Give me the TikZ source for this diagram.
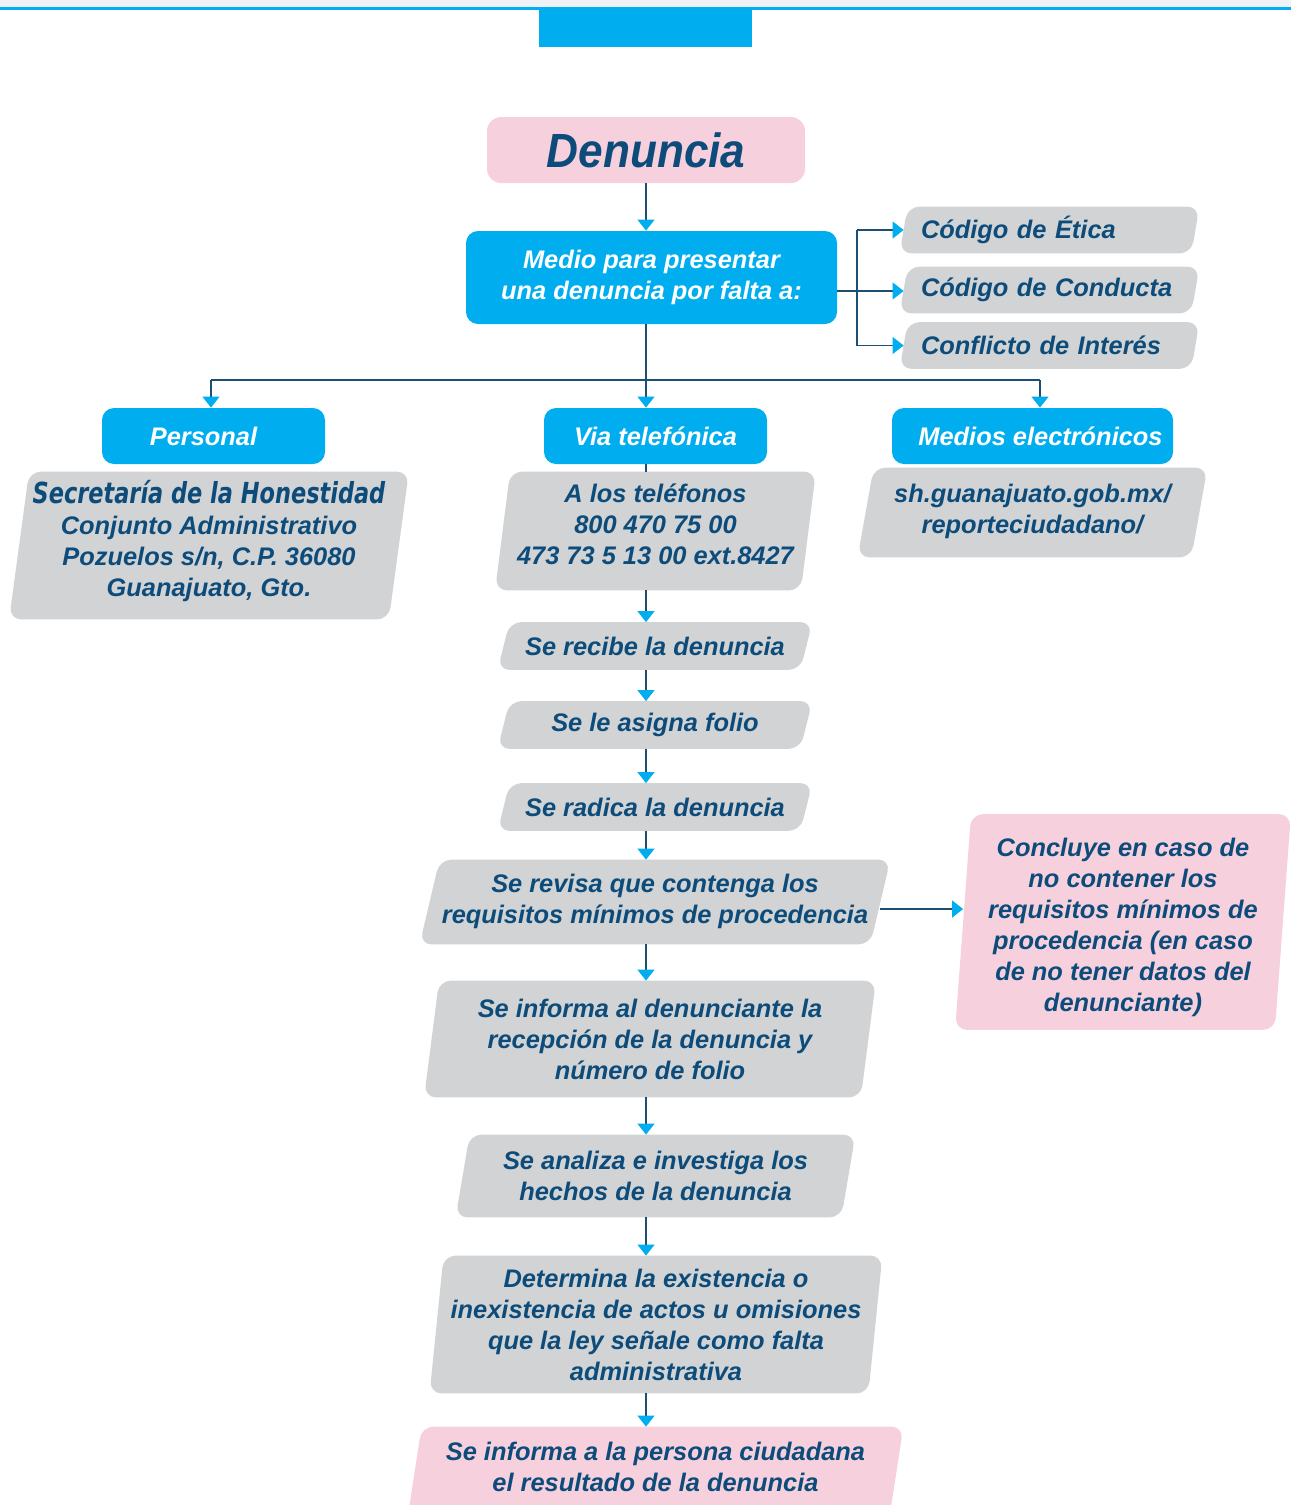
\documentclass[tikz,border=0pt]{standalone}
\usepackage{fontspec}
\setmainfont{Liberation Sans}
\newfontfamily\condfont{DejaVu Sans Condensed}
\usetikzlibrary{arrows.meta,backgrounds}
\definecolor{cyanb}{HTML}{00AEEF}
\definecolor{dblue}{HTML}{0D4C7A}
\definecolor{greyb}{HTML}{D1D3D4}
\definecolor{pinkb}{HTML}{F6D1DD}
\definecolor{lineb}{HTML}{1D4E74}
\definecolor{bandg}{HTML}{EEF2F5}
\tikzset{
 base/.style={inner sep=0pt, align=center, font=\fontsize{12.7}{15.5}\selectfont\bfseries\itshape, text=dblue},
 sz/.style 2 args={minimum width=#1*0.5pt, minimum height=#2*0.5pt},
 bluebox/.style={base, fill=cyanb, rounded corners=6pt, text=white},
 codebox/.style={base, align=left, inner xsep=8.5pt, text width=128.5pt, minimum height=23pt},
 arr/.style={draw=lineb, line width=0.6pt, -{Triangle[color=cyanb,width=8.5pt,length=5.5pt]}},
 conn/.style={draw=lineb, line width=0.6pt},
}
% name, half skew (px), colour, top extension (px), bottom extension (px)
\newcommand\slantfill[5]{\fill[#3, rounded corners=6pt]
 ([xshift=#2*0.5pt,yshift=#4*0.5pt]#1.north west) -- ([xshift=#2*0.5pt,yshift=#4*0.5pt]#1.north east) --
 ([xshift=-#2*0.5pt,yshift=-#5*0.5pt]#1.south east) -- ([xshift=-#2*0.5pt,yshift=-#5*0.5pt]#1.south west) -- cycle;}
\begin{document}
\begin{tikzpicture}[x=0.5pt,y=-0.5pt]
\useasboundingbox (0,0) rectangle (1291,1505);
% top band
\fill[bandg] (0,0) rectangle (1291,7);
\fill[cyanb] (0,7) rectangle (1291,10);
\fill[cyanb] (539,9) rectangle (752,47);

% nodes
\node[base, sz={318}{66}, fill=pinkb, rounded corners=7pt] (den) at (646,150)
 {\scalebox{0.92}[1]{\fontsize{24}{26}\selectfont Denuncia}};
\node[bluebox, sz={371}{93}] (medio) at (651.5,277.5) {Medio para presentar\\una denuncia por falta a:};
\node[codebox] (etica) at (1049.5,230) {Código de Ética};
\node[codebox] (conducta) at (1049.5,290) {Código de Conducta};
\node[codebox] (conflicto) at (1049.5,345.5) {Conflicto de Interés};

\node[bluebox, sz={223}{56}] (personal) at (213.5,436) {\hspace*{-10pt}Personal};
\node[bluebox, sz={223}{56}] (via) at (655.5,436) {Via telefónica};
\node[bluebox, sz={281}{56}] (medios) at (1032.5,436) {\hspace*{8pt}Medios electrónicos};

\node[base, sz={379}{138}] (addr) at (209,541)
 {\scalebox{0.86}[1]{\condfont\fontsize{14.5}{15.5}\selectfont\bfseries\itshape Secretaría de la Honestidad}\\Conjunto Administrativo\\Pozuelos s/n, C.P. 36080\\Guanajuato, Gto.};
\node[base, sz={305}{105}] (tel) at (655.5,524.5) {A los teléfonos\\800 470 75 00\\473 73 5 13 00 ext.8427};
\node[base, sz={333}{86}] (web) at (1032.5,511) {sh.guanajuato.gob.mx/\\reporteciudadano/};

\node[base, sz={302}{47}] (recibe) at (655,646) {Se recibe la denuncia};
\node[base, sz={302}{47}] (asigna) at (655,725) {Se le asigna folio};
\node[base, sz={302}{47}] (radica) at (655,807) {Se radica la denuncia};
\node[base, sz={450}{82}] (revisa) at (655,901) {Se revisa que contenga los\\requisitos mínimos de procedencia};
\node[base, sz={319}{205}] (concluye) at (1123,927)
 {Concluye en caso de\\no contener los\\requisitos mínimos de\\procedencia (en caso\\de no tener datos del\\denunciante)};
\node[base, sz={436}{116}] (informa) at (650,1039) {Se informa al denunciante la\\recepción de la denuncia y\\número de folio};
\node[base, sz={385}{82}] (analiza) at (655.5,1176) {Se analiza e investiga los\\hechos de la denuncia};
\node[base, sz={438}{137}] (determina) at (656,1324.5)
 {Determina la existencia o\\inexistencia de actos u omisiones\\que la ley señale como falta\\administrativa};
\node[base, sz={481}{80}] (final) at (655.5,1467) {Se informa a la persona ciudadana\\el resultado de la denuncia};

\begin{pgfonlayer}{background}
\slantfill{etica}{4}{greyb}{0}{0}
\slantfill{conducta}{4}{greyb}{0}{0}
\slantfill{conflicto}{4}{greyb}{0}{0}
\slantfill{addr}{10}{greyb}{0}{9}
\slantfill{tel}{7.5}{greyb}{0}{13}
\slantfill{web}{8}{greyb}{0}{3}
\slantfill{recibe}{6}{greyb}{0}{0}
\slantfill{asigna}{6}{greyb}{0}{0}
\slantfill{radica}{6}{greyb}{0}{0}
\slantfill{revisa}{10}{greyb}{0}{2}
\slantfill{concluye}{8}{pinkb}{10}{0}
\slantfill{informa}{7.5}{greyb}{0}{0}
\slantfill{analiza}{7}{greyb}{0}{0}
\slantfill{determina}{7}{greyb}{0}{0}
\slantfill{final}{7}{pinkb}{0}{10}
\end{pgfonlayer}

% connectors
\coordinate (j) at (646,380);
\coordinate (br) at (857,291);
\draw[arr] (den.south) -- (den.south |- medio.north);
\draw[conn] (medio.east |- br) -- (br);
\draw[arr] (br) -- (br -| conducta.west);
\draw[conn] (br |- etica.west) -- (br |- conflicto.west);
\draw[arr] (br |- etica.west) -- (etica.west);
\draw[arr] (br |- conflicto.west) -- (conflicto.west);
\draw[conn] (medio.south -| j) -- (j);
\draw[conn] (j -| 211,0) -- (j -| 1040,0);
\draw[arr] (j -| 211,0) -- (personal.north -| 211,0);
\draw[arr] (j) -- (j |- via.north);
\draw[arr] (j -| 1040,0) -- (medios.north -| 1040,0);
\draw[conn] (via.south -| j) -- (tel.north -| j);
\draw[arr] ([yshift=-6.5pt]tel.south -| j) -- (recibe.north -| j);
\draw[arr] (recibe.south -| j) -- (asigna.north -| j);
\draw[arr] (asigna.south -| j) -- (radica.north -| j);
\draw[arr] (radica.south -| j) -- (revisa.north -| j);
\draw[arr] ([yshift=-4pt]revisa.east) -- ([yshift=-4pt]revisa.east -| concluye.west);
\draw[arr] ([yshift=-1pt]revisa.south -| j) -- (informa.north -| j);
\draw[arr] (informa.south -| j) -- (analiza.north -| j);
\draw[arr] (analiza.south -| j) -- (determina.north -| j);
\draw[arr] (determina.south -| j) -- (final.north -| j);
\end{tikzpicture}
\end{document}
